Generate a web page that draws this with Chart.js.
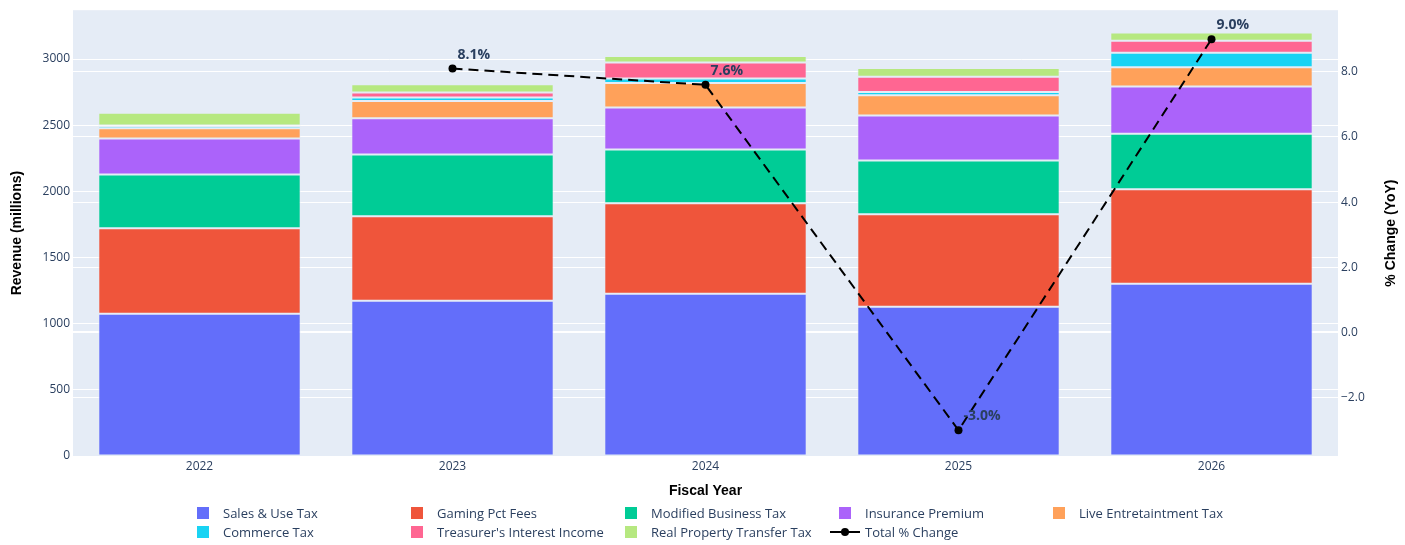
<!DOCTYPE html>
<html>
<head>
<meta charset="utf-8">
<script src="https://cdn.jsdelivr.net/npm/chart.js@4"></script>
<style>
  body { margin: 0; background: #fff; }
  #wrap { position: relative; width: 1405px; height: 545px; }
  #legend { position: absolute; left: 0; top: 504px; width: 1405px; height: 40px;
            font-family: "Open Sans", sans-serif; font-size: 13px; color: #2a3f5f; }
  .item { position: absolute; height: 18px; line-height: 18px; white-space: nowrap; }
  .sw { position: absolute; left: 0; top: 3px; width: 12px; height: 12px; }
  .txt { position: absolute; left: 26px; top: 0; }
</style>
</head>
<body>
<div id="wrap">
  <canvas id="revenueChart" width="1405" height="545"></canvas>
  <div id="legend"></div>
</div>
<script>
const years = ['2022', '2023', '2024', '2025', '2026'];
const salesUse = [1075, 1173, 1226, 1128, 1301];
const gamingPct = [647, 639, 684, 699, 714];
const modifiedBusiness = [406, 467, 406, 406, 421];
const insurancePremium = [271, 273, 318, 341, 356];
const liveEntertainment = [77, 130, 184, 153, 146];
const commerceTax = [18, 28, 35, 23, 110];
const treasurerInterest = [4, 37, 120, 117, 90];
const realPropertyTransfer = [96, 63, 50, 66, 63];
const totalPctChange = [null, 8.1, 7.6, -3.0, 9.0];
const revenueTicks = [0, 500, 1000, 1500, 2000, 2500, 3000];

const barSeries = [
    { label: 'Sales & Use Tax', data: salesUse, color: '#636EFA' },
    { label: 'Gaming Pct Fees', data: gamingPct, color: '#EF553B' },
    { label: 'Modified Business Tax', data: modifiedBusiness, color: '#00CC96' },
    { label: 'Insurance Premium', data: insurancePremium, color: '#AB63FA' },
    { label: 'Live Entretaintment Tax', data: liveEntertainment, color: '#FFA15A' },
    { label: 'Commerce Tax', data: commerceTax, color: '#19D3F3' },
    { label: "Treasurer's Interest Income", data: treasurerInterest, color: '#FF6692' },
    { label: 'Real Property Transfer Tax', data: realPropertyTransfer, color: '#B6E880' }
];

const tickFont = { family: '"Open Sans", sans-serif', size: 12 };
const titleFont = { family: 'Arial, "Liberation Sans", sans-serif', size: 14, weight: 'bold' };

// plot background like plotly
const plotBg = {
    id: 'plotBg',
    beforeDraw(chart) {
        const a = chart.chartArea;
        chart.ctx.save();
        chart.ctx.fillStyle = '#E5ECF6';
        chart.ctx.fillRect(a.left, a.top, a.right - a.left, a.bottom - a.top);
        chart.ctx.restore();
    }
};

// "8.1%" labels next to the line points + right axis title (reads bottom-to-top)
const pctLabels = {
    id: 'pctLabels',
    afterDatasetsDraw(chart) {
        const idx = chart.data.datasets.length - 1;
        const meta = chart.getDatasetMeta(idx);
        const ctx = chart.ctx;
        ctx.save();
        ctx.font = 'bold 14px "Open Sans", sans-serif';
        ctx.fillStyle = '#2a3f5f';
        ctx.textAlign = 'left';
        ctx.textBaseline = 'middle';
        meta.data.forEach((pt, i) => {
            const v = totalPctChange[i];
            if (v === null) return;
            ctx.fillText(v.toFixed(1) + '%', pt.x + 5, pt.y - 14);
        });
        ctx.restore();
    },
    afterDraw(chart) {
        const a = chart.chartArea;
        const ctx = chart.ctx;
        ctx.save();
        ctx.translate(1391, (a.top + a.bottom) / 2);
        ctx.rotate(-Math.PI / 2);
        ctx.font = 'bold 14px Arial, "Liberation Sans", sans-serif';
        ctx.fillStyle = '#000';
        ctx.textAlign = 'center';
        ctx.textBaseline = 'middle';
        ctx.fillText('% Change (YoY)', 0, 0);
        ctx.restore();
    }
};

const datasets = barSeries.map(s => ({
    type: 'bar',
    label: s.label,
    data: s.data,
    backgroundColor: s.color,
    borderColor: 'rgba(229,236,246,0.7)',
    borderWidth: 1,
    borderSkipped: false,
    categoryPercentage: 0.8,
    barPercentage: 1.0,
    yAxisID: 'y',
    order: 1
}));

datasets.push({
    type: 'line',
    label: 'Total % Change',
    data: totalPctChange,
    yAxisID: 'y2',
    borderColor: '#000',
    backgroundColor: '#000',
    borderWidth: 2,
    borderDash: [10, 6],
    pointRadius: 4,
    pointBackgroundColor: '#000',
    pointBorderWidth: 0,
    tension: 0,
    spanGaps: false,
    order: 0
});

new Chart(document.getElementById('revenueChart'), {
    data: { labels: years, datasets: datasets },
    plugins: [plotBg, pctLabels],
    options: {
        responsive: false,
        devicePixelRatio: 1,
        animation: false,
        layout: { padding: { top: 8, left: 0, right: 0, bottom: 45 } },
        plugins: { legend: { display: false }, tooltip: { enabled: false } },
        scales: {
            x: {
                stacked: true,
                grid: { display: false, drawTicks: false },
                border: { display: false },
                ticks: { color: '#2a3f5f', font: tickFont, padding: 3 },
                title: { display: true, text: 'Fiscal Year', color: '#000', font: titleFont, padding: { top: 0, bottom: 0 } },
                afterFit(scale) { scale.height = 44; }
            },
            y: {
                stacked: true,
                position: 'left',
                min: 0,
                max: 3369,
                border: { display: false },
                grid: { color: '#fff', lineWidth: 1, drawTicks: false },
                afterBuildTicks(scale) { scale.ticks = revenueTicks.map(v => ({ value: v })); },
                ticks: { color: '#2a3f5f', font: tickFont, padding: 3, callback: v => String(v) },
                title: { display: true, text: 'Revenue (millions)', color: '#000', font: titleFont, padding: { top: 9, bottom: 0 } },
                afterFit(scale) { scale.width = 73; }
            },
            y2: {
                position: 'right',
                min: -3.79,
                max: 9.89,
                border: { display: false },
                grid: {
                    color: '#fff',
                    lineWidth: ctx => (ctx.tick && ctx.tick.value === 0 ? 2 : 1),
                    drawTicks: false
                },
                ticks: {
                    stepSize: 2,
                    includeBounds: false,
                    color: '#2a3f5f',
                    font: tickFont,
                    padding: 3,
                    callback: v => (v < 0 ? '\u2212' + Math.abs(v).toFixed(1) : v.toFixed(1))
                },
                title: { display: false },
                afterFit(scale) { scale.width = 67; }
            }
        }
    }
});

// legend laid out in plotly-style columns
const legendEl = document.getElementById('legend');
const colX = [197, 411, 625, 839, 1053];
const legendItems = barSeries.map(s => ({ label: s.label, color: s.color }));
legendItems.push({ label: 'Total % Change', line: true });
legendItems.forEach((it, i) => {
    const div = document.createElement('div');
    div.className = 'item';
    div.style.left = colX[i % 5] + 'px';
    div.style.top = (Math.floor(i / 5) * 19) + 'px';
    if (it.line) {
        const sym = document.createElement('canvas');
        sym.width = 30; sym.height = 18;
        sym.style.position = 'absolute';
        sym.style.left = '-9px';
        sym.style.top = '0px';
        const c = sym.getContext('2d');
        c.strokeStyle = '#000'; c.lineWidth = 2;
        c.beginPath(); c.moveTo(0, 9); c.lineTo(30, 9); c.stroke();
        c.fillStyle = '#000';
        c.beginPath(); c.arc(15, 9, 4, 0, Math.PI * 2); c.fill();
        div.appendChild(sym);
    } else {
        const sw = document.createElement('div');
        sw.className = 'sw';
        sw.style.background = it.color;
        div.appendChild(sw);
    }
    const t = document.createElement('span');
    t.className = 'txt';
    t.textContent = it.label;
    div.appendChild(t);
    legendEl.appendChild(div);
});
</script>
</body>
</html>
